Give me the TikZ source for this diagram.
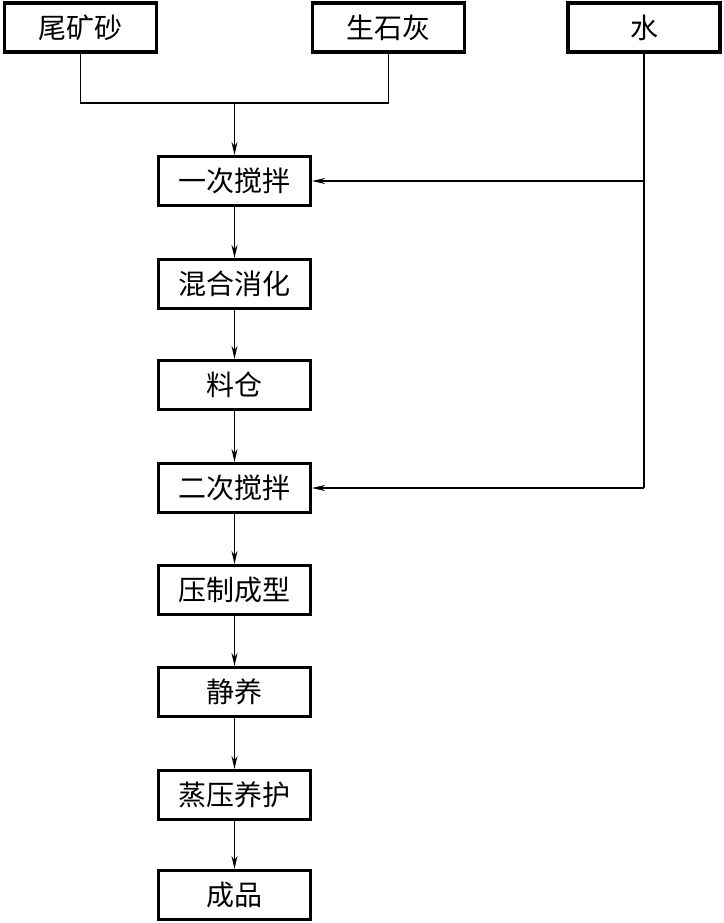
\documentclass[tikz,border=0pt]{standalone}
\usepackage{fontspec}
\newfontfamily\cjk{Noto Sans CJK SC}
\usetikzlibrary{arrows.meta}
\begin{document}
\begin{tikzpicture}[x=1pt,y=-1pt,
  boxst/.style={draw,line width=3.2pt,minimum width=152pt,minimum height=49pt,inner sep=0pt,font=\cjk\fontsize{28}{30}\selectfont},
  conn/.style={line width=1.1pt},
  arr/.style={conn,-{Stealth[length=13pt,width=6pt]}}]
\useasboundingbox (0,0) rectangle (723,923);
\node[boxst] (a) at (80.5,27.5) {尾矿砂};
\node[boxst] (b) at (388.5,27.5) {生石灰};
\node[boxst] (c) at (644,27.5) {水};
\node[boxst] (s1) at (234.5,181) {一次搅拌};
\node[boxst] (s2) at (234.5,284) {混合消化};
\node[boxst] (s3) at (234.5,385) {料仓};
\node[boxst] (s4) at (234.5,488) {二次搅拌};
\node[boxst] (s5) at (234.5,590) {压制成型};
\node[boxst] (s6) at (234.5,692) {静养};
\node[boxst] (s7) at (234.5,795) {蒸压养护};
\node[boxst] (s8) at (234.5,895) {成品};
\coordinate (j) at (234.5,103);
\draw[conn] (a.south) |- (j) -| (b.south);
\draw[arr] (j) -- (s1.north);
\draw[conn] (c.south) -- (644,488);
\draw[arr] (644,181) -- (s1.east);
\draw[arr] (644,488) -- (s4.east);
\draw[arr] (s1) -- (s2);
\draw[arr] (s2) -- (s3);
\draw[arr] (s3) -- (s4);
\draw[arr] (s4) -- (s5);
\draw[arr] (s5) -- (s6);
\draw[arr] (s6) -- (s7);
\draw[arr] (s7) -- (s8);
\end{tikzpicture}
\end{document}
